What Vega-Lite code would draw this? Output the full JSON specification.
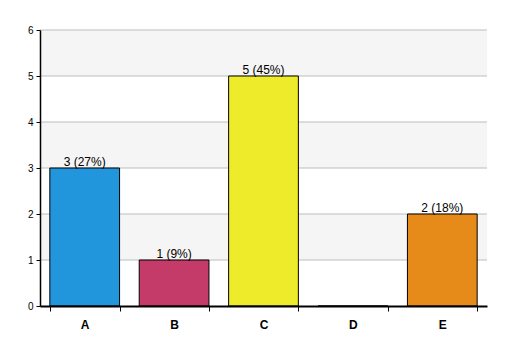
{
  "$schema": "https://vega.github.io/schema/vega-lite/v6.json",
  "width": 447,
  "height": 276,
  "autosize": {"type": "none"},
  "padding": {"left": 40, "top": 30, "right": 20, "bottom": 50},
  "background": "white",
  "config": {"view": {"stroke": null}, "font": "Liberation Sans"},
  "datasets": {
    "bars": [
      {"cat": "A", "value": 3, "label": "3 (27%)", "color": "#2196dc"},
      {"cat": "B", "value": 1, "label": "1 (9%)", "color": "#c43a68"},
      {"cat": "C", "value": 5, "label": "5 (45%)", "color": "#eeeb2a"},
      {"cat": "D", "value": 0, "label": "", "color": "#888888"},
      {"cat": "E", "value": 2, "label": "2 (18%)", "color": "#e68a1a"}
    ],
    "stripes": [
      {"y0": 1, "y1": 2},
      {"y0": 3, "y1": 4},
      {"y0": 5, "y1": 6}
    ],
    "grid": [
      {"g": 1}, {"g": 2}, {"g": 3}, {"g": 4}, {"g": 5}, {"g": 6}
    ]
  },
  "layer": [
    {
      "data": {"name": "stripes"},
      "mark": {"type": "rect", "fill": "#f5f5f5"},
      "encoding": {
        "y": {
          "field": "y0", "type": "quantitative", "scale": {"domain": [0, 6], "nice": false},
          "axis": {
            "title": null, "values": [0, 1, 2, 3, 4, 5, 6], "labelOverlap": false, "grid": false, "zindex": 1,
            "domainColor": "black", "domainWidth": 1.5, "tickColor": "black", "tickSize": 4,
            "labelFontSize": 10, "labelColor": "black", "labelPadding": 3
          }
        },
        "y2": {"field": "y1"}
      }
    },
    {
      "data": {"name": "grid"},
      "mark": {"type": "rule", "color": "#bdbdbd", "strokeWidth": 1},
      "encoding": {
        "y": {
          "field": "g", "type": "quantitative",
          "axis": {
            "title": null, "values": [0, 1, 2, 3, 4, 5, 6], "labelOverlap": false, "grid": false, "zindex": 1,
            "domainColor": "black", "domainWidth": 1.5, "tickColor": "black", "tickSize": 4,
            "labelFontSize": 10, "labelColor": "black", "labelPadding": 3
          }
        }
      }
    },
    {
      "data": {"name": "bars"},
      "layer": [
        {
          "mark": {"type": "bar", "stroke": "black", "strokeWidth": 1},
          "encoding": {
            "x": {
              "field": "cat", "type": "nominal",
              "scale": {"paddingInner": 0.22, "paddingOuter": 0.11},
              "axis": {
                "title": null, "labelAngle": 0, "labelFontWeight": "bold", "labelFontSize": 12,
                "labelColor": "black", "labelPadding": 8, "tickBand": "extent", "tickColor": "black",
                "tickSize": 5, "domainColor": "black", "domainWidth": 2, "zindex": 1
              }
            },
            "y": {
              "field": "value", "type": "quantitative",
              "axis": {
                "title": null, "values": [0, 1, 2, 3, 4, 5, 6], "labelOverlap": false, "grid": false, "zindex": 1,
                "domainColor": "black", "domainWidth": 1.5, "tickColor": "black", "tickSize": 4,
                "labelFontSize": 10, "labelColor": "black", "labelPadding": 3
              }
            },
            "fill": {"field": "color", "type": "nominal", "scale": null}
          }
        },
        {
          "mark": {"type": "text", "baseline": "bottom", "dy": 1, "fontSize": 12, "color": "black"},
          "encoding": {
            "x": {"field": "cat", "type": "nominal"},
            "y": {"field": "value", "type": "quantitative"},
            "text": {"field": "label"}
          }
        }
      ]
    }
  ]
}
